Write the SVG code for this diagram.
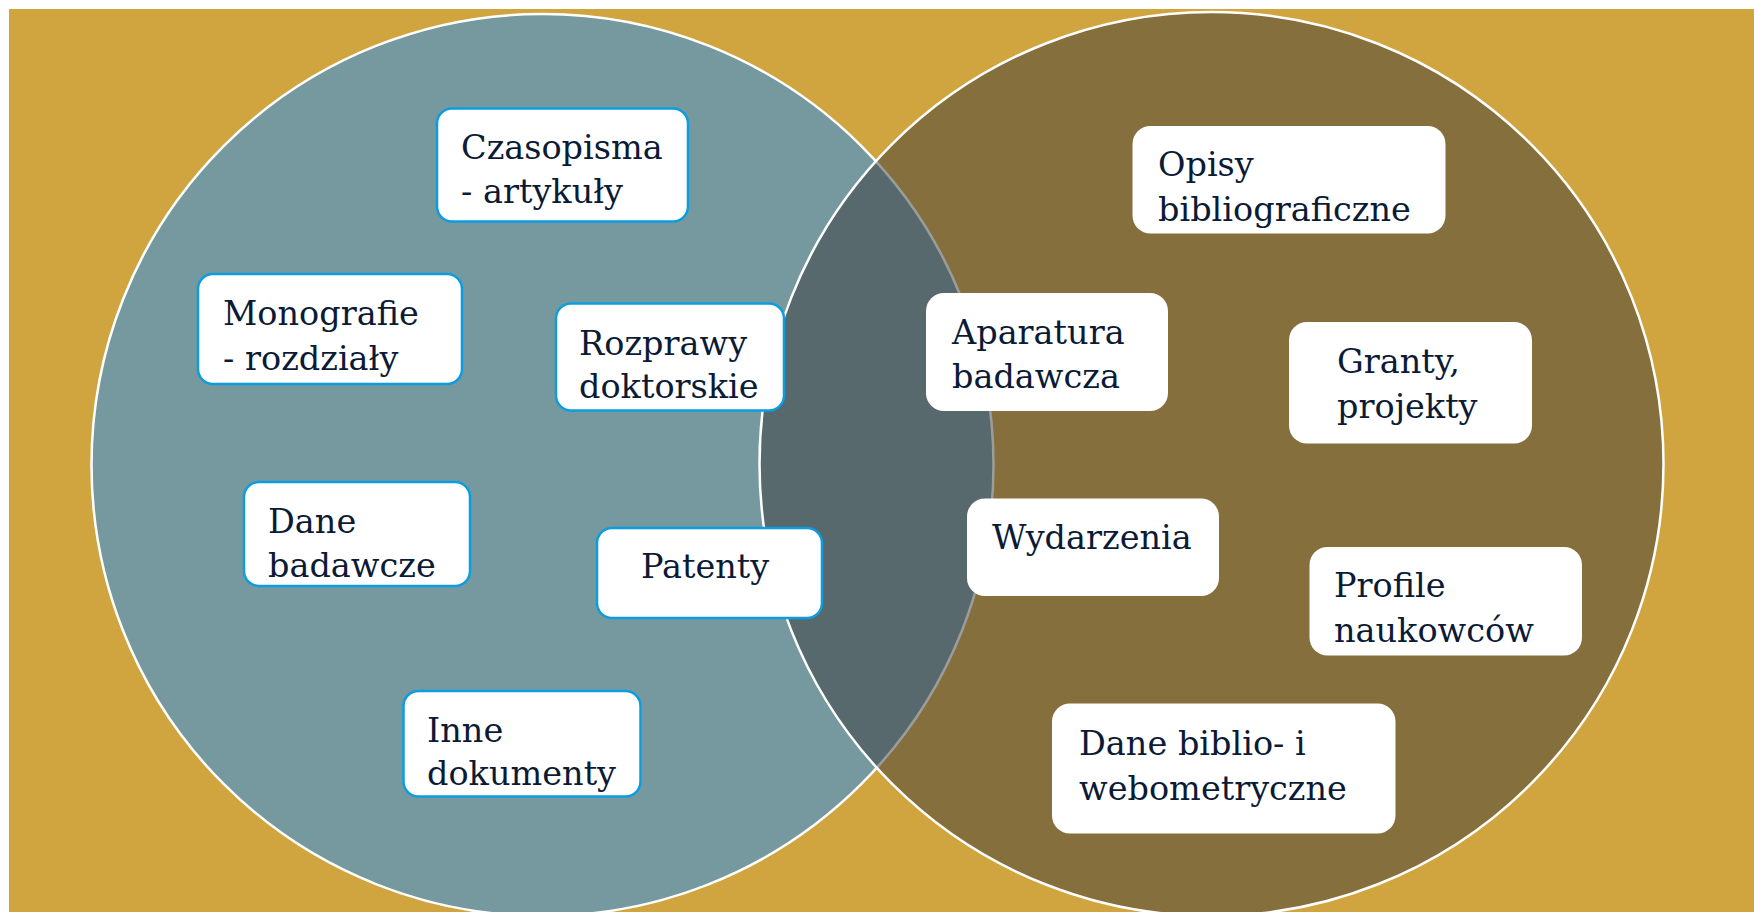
<svg xmlns="http://www.w3.org/2000/svg" width="1754" height="912" viewBox="0 0 1754 912">
<style>
.lbl{font-family:"DejaVu Serif","Liberation Serif",serif;font-size:33.5px;fill:#0B1A35}
.bl{fill:#FFFFFF;stroke:#0C9DE0;stroke-width:2.5}
.br{fill:#FFFFFF;stroke:none}
</style>
<rect x="0" y="0" width="1754" height="912" fill="#FFFFFF"/>
<rect x="9" y="9" width="1745" height="903" fill="#D0A53F"/>
<g id="circles">
<circle id="circle-left" cx="542.5" cy="465" r="451" fill="#75999E" stroke="#FFFFFF" stroke-width="2.5"/>
<circle id="circle-right" cx="1211.5" cy="464" r="452" fill="#3A3A3A" fill-opacity="0.5" stroke="#FFFFFF" stroke-width="2.5"/>
</g>
<g id="connectors"></g>
<g id="n-czasopisma"><rect class="bl" x="437" y="108.5" width="251" height="113" rx="15"/><text class="lbl" x="461" y="159">Czasopisma</text><text class="lbl" x="461" y="203">- artykuły</text></g>
<g id="n-monografie"><rect class="bl" x="198" y="274" width="264" height="110" rx="15"/><text class="lbl" x="223" y="325">Monografie</text><text class="lbl" x="223" y="370">- rozdziały</text></g>
<g id="n-rozprawy"><rect class="bl" x="556" y="303.5" width="228" height="107" rx="15"/><text class="lbl" x="579" y="355">Rozprawy</text><text class="lbl" x="579" y="398">doktorskie</text></g>
<g id="n-dane-badawcze"><rect class="bl" x="244" y="482" width="226" height="104" rx="15"/><text class="lbl" x="268" y="533">Dane</text><text class="lbl" x="268" y="577">badawcze</text></g>
<g id="n-patenty"><rect class="bl" x="597" y="528" width="225" height="90" rx="15"/><text class="lbl" x="641" y="578">Patenty</text></g>
<g id="n-inne"><rect class="bl" x="403.5" y="691" width="237" height="105.5" rx="15"/><text class="lbl" x="427" y="742">Inne</text><text class="lbl" x="427" y="785">dokumenty</text></g>
<g id="n-opisy"><rect class="br" x="1132.5" y="126" width="313" height="107.5" rx="18"/><text class="lbl" x="1158" y="176">Opisy</text><text class="lbl" x="1158" y="221">bibliograficzne</text></g>
<g id="n-aparatura"><rect class="br" x="926" y="293" width="242" height="118" rx="18"/><text class="lbl" x="952" y="344">Aparatura</text><text class="lbl" x="952" y="388">badawcza</text></g>
<g id="n-granty"><rect class="br" x="1289" y="322" width="243" height="121.5" rx="18"/><text class="lbl" x="1337" y="373">Granty,</text><text class="lbl" x="1337" y="418">projekty</text></g>
<g id="n-wydarzenia"><rect class="br" x="967" y="498.5" width="252" height="97.5" rx="18"/><text class="lbl" x="992" y="549">Wydarzenia</text></g>
<g id="n-profile"><rect class="br" x="1309.5" y="547" width="272.5" height="108.5" rx="18"/><text class="lbl" x="1334" y="597">Profile</text><text class="lbl" x="1334" y="642">naukowców</text></g>
<g id="n-dane-biblio"><rect class="br" x="1052" y="703.5" width="343.5" height="130" rx="18"/><text class="lbl" x="1079" y="755">Dane biblio- i</text><text class="lbl" x="1079" y="800">webometryczne</text></g>
</svg>
